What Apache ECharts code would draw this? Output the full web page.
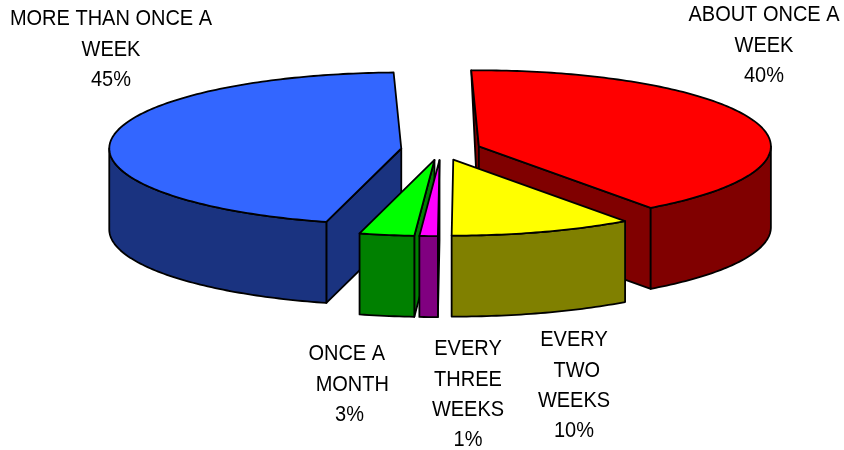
<!DOCTYPE html>
<html>
<head>
<meta charset="utf-8">
<style>html,body{margin:0;padding:0;background:#fff}#chart{width:844px;height:450px}</style>
<script src="https://cdn.jsdelivr.net/npm/echarts@6/dist/echarts.min.js"></script>
</head>
<body>
<div id="chart"></div>
<script>
// Slices run clockwise from the top of the pie.
const categories = ['ABOUT ONCE A\nWEEK', 'EVERY TWO WEEKS', 'EVERY THREE WEEKS', 'ONCE A MONTH', 'MORE THAN ONCE A\nWEEK'];
const percentages = [40, 10, 1, 3, 45];
const labelTexts = [
  'ABOUT ONCE A\nWEEK',
  'EVERY\n\u00a0TWO\nWEEKS',
  'EVERY\nTHREE\nWEEKS',
  'ONCE A\u00a0\n\u00a0MONTH',
  'MORE THAN ONCE A\nWEEK'
];
const topColors = ['#ff0000', '#ffff00', '#ff00ff', '#00ff00', '#3366ff'];
const wallColors = ['#800000', '#808000', '#800080', '#008000', '#1a3380'];
const labelCenters = [[764, 0], [574, 325], [468, 334], [349.5, 339], [111, 4]];

// Pie geometry: an exploded disc seen at a low angle.
const pie = { cx: 441, cy: 149.7, rx: 292, ry: 76, depth: 81, explode: 40, startDeg: -1.5 };
const drawOrder = [4, 0, 1, 3, 2];

const total = percentages.reduce((a, b) => a + b, 0);
const spans = [];
percentages.reduce((start, v) => {
  const end = start + v / total * 360;
  spans.push([start, end]);
  return end;
}, pie.startDeg);

function rim(apex, deg, drop) {
  const t = deg * Math.PI / 180;
  return [apex[0] + pie.rx * Math.sin(t), apex[1] - pie.ry * Math.cos(t) + (drop || 0)];
}

function apexOf(span) {
  const mid = (span[0] + span[1]) / 2 * Math.PI / 180;
  return [
    pie.cx + pie.explode * Math.sin(mid),
    pie.cy - pie.explode * pie.ry / pie.rx * Math.cos(mid)
  ];
}

function arcPoints(apex, from, to, drop) {
  const pts = [];
  const steps = Math.max(2, Math.ceil(Math.abs(to - from)));
  for (let i = 0; i <= steps; i++) pts.push(rim(apex, from + (to - from) * i / steps, drop));
  return pts;
}

function poly(points, fill) {
  return {
    type: 'polygon',
    shape: { points },
    style: { fill, stroke: '#000', lineWidth: 1.8, lineJoin: 'round' }
  };
}

function cutFace(apex, deg, color) {
  const r = rim(apex, deg);
  const base = [apex[0], apex[1] + pie.depth];
  // A cut on the far side of the disc tapers to nothing at the rim.
  if (Math.cos(deg * Math.PI / 180) > 0) return poly([apex, r, base], color);
  return poly([apex, r, [r[0], r[1] + pie.depth], base], color);
}

function renderSlice(params) {
  const idx = drawOrder[params.dataIndex];
  const [a0, a1] = spans[idx];
  const apex = apexOf(spans[idx]);
  const color = wallColors[idx];
  const children = [];

  // Side faces exposed by the gap between slices.
  if (Math.sin(a0 * Math.PI / 180) < 0) children.push(cutFace(apex, a0, color));
  if (Math.sin(a1 * Math.PI / 180) > 0) children.push(cutFace(apex, a1, color));

  // Outer wall: only the part of the rim that faces the viewer.
  const wallFrom = Math.max(a0, 90);
  const wallTo = Math.min(a1, 270);
  if (wallTo > wallFrom) {
    children.push(poly(
      arcPoints(apex, wallFrom, wallTo, 0).concat(arcPoints(apex, wallTo, wallFrom, pie.depth)),
      color
    ));
  }

  // Top surface.
  children.push(poly([apex].concat(arcPoints(apex, a0, a1, 0)), topColors[idx]));

  // Category label with its share, narrowed slightly for a condensed look.
  children.push({
    type: 'text',
    x: labelCenters[idx][0],
    y: labelCenters[idx][1],
    scaleX: 0.93,
    style: {
      x: 0,
      y: 0,
      text: labelTexts[idx] + '\n' + percentages[idx] + '%',
      font: '21.5px "Liberation Sans", Arial, sans-serif',
      lineHeight: 30.4,
      fill: '#000',
      align: 'center',
      verticalAlign: 'top'
    },
    z2: 10
  });

  return { type: 'group', children };
}

const chart = echarts.init(document.getElementById('chart'), null, { renderer: 'canvas' });
chart.setOption({
  backgroundColor: '#ffffff',
  animation: false,
  series: [{
    type: 'custom',
    coordinateSystem: 'none',
    renderItem: renderSlice,
    data: drawOrder.map(i => ({ name: categories[i], value: percentages[i] }))
  }]
});
</script>
</body>
</html>
